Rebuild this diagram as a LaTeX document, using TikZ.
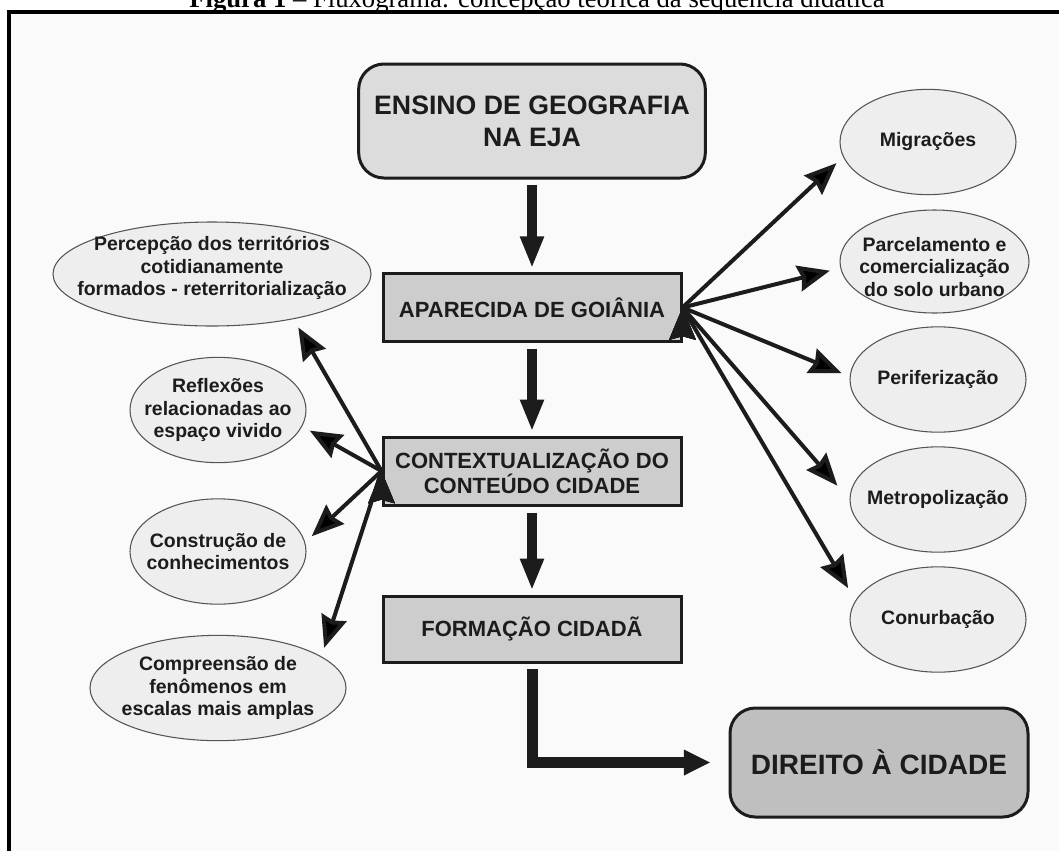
\documentclass[tikz,border=0pt]{standalone}
\usepackage{fontspec}
\setmainfont{Liberation Sans}
\newfontfamily\captionfont{Liberation Serif}
\usepackage{tikz}
\usetikzlibrary{shapes,arrows.meta,calc,positioning}
\definecolor{ink}{HTML}{1C1C1C}
\definecolor{paper}{HTML}{FAFAFA}
\definecolor{headgray}{HTML}{DCDCDC}
\definecolor{boxgray}{HTML}{CDCDCD}
\definecolor{endgray}{HTML}{BFBFBF}
\definecolor{topicgray}{HTML}{EEEEEE}
\tikzset{
    auto, semithick,
    mainbox/.style = {rectangle, draw=ink, line width=2.25pt, fill=boxgray, text=ink,
        minimum width=223.5pt, minimum height=50.5pt, align=center,
        font=\fontsize{16.5}{18.75}\selectfont\bfseries},
    capbox/.style = {mainbox, rounded corners=19pt},
    topic/.style = {ellipse, draw=ink!75, line width=0.8pt, fill=topicgray,
        minimum width=132pt, minimum height=79pt, inner sep=0pt},
    topictext/.style = {align=center, text=ink, font=\fontsize{14.6}{16.9}\selectfont\bfseries},
    flow/.style = {-{Triangle[length=24pt,width=16.5pt]}, line width=7.5pt, draw=ink},
    link/.style = {-{Stealth[length=24pt,width=19.5pt,inset=2.5pt]}, line width=3pt, draw=ink}
}

\begin{document}
\begin{tikzpicture}[x=0.75pt, y=-0.75pt]
    \useasboundingbox (0,0) rectangle (1059,850);
    \fill[white] (0,0) rectangle (1059,850);

    % Frame and caption
    \draw[line width=3pt, fill=paper] (9,12) rectangle (1090,880);
    \node[anchor=base, inner sep=0pt, font=\captionfont\fontsize{20}{24}\selectfont] (caption) at (537,7)
        {\textbf{Figura 1} – Fluxograma: concepção teórica da sequência didática};

    % Main column
    \node[capbox, fill=headgray, minimum width=260pt, minimum height=85.5pt,
        font=\fontsize{20}{24}\selectfont\bfseries] (ensino) at (532,121) {ENSINO DE GEOGRAFIA\\NA EJA};
    \node[mainbox] (apar) at (532,307.5) {APARECIDA DE GOIÂNIA};
    \node[mainbox, minimum height=51pt] (ctx) at (532,471) {CONTEXTUALIZAÇÃO DO\\CONTEÚDO CIDADE};
    \node[mainbox, minimum height=49.5pt] (form) at (532,629) {FORMAÇÃO CIDADÃ};
    \node[capbox, fill=endgray, minimum height=81.75pt,
        font=\fontsize{21}{25}\selectfont\bfseries] (direito) at (879,762.5) {DIREITO À CIDADE};

    % Left topics
    \node[topic, minimum width=238.5pt, minimum height=78pt,
        label={[topictext, yshift=4.5pt]center:Percepção dos territórios\\cotidianamente\\formados - reterritorialização}] (perc) at (212,274) {};
    \node[topic, label={[topictext]center:Reflexões\\relacionadas ao\\espaço vivido}] (refl) at (218,410) {};
    \node[topic, label={[topictext]center:Construção de\\conhecimentos}] (cons) at (218,551.5) {};
    \node[topic, minimum width=192pt,
        label={[topictext]center:Compreensão de\\fenômenos em\\escalas mais amplas}] (comp) at (218,688) {};

    % Right topics
    \node[topic, label={[topictext]center:Migrações}] (migr) at (928,142) {};
    \node[topic, minimum width=141.75pt, minimum height=77.25pt,
        label={[topictext, yshift=-4pt]center:Parcelamento e\\comercialização\\do solo urbano}] (parc) at (934.5,261.5) {};
    \node[topic, label={[topictext]center:Periferização}] (peri) at (938,379.5) {};
    \node[topic, label={[topictext]center:Metropolização}] (metr) at (938,499.5) {};
    \node[topic, label={[topictext]center:Conurbação}] (conu) at (938,619.5) {};

    % Main flow
    \draw[flow, shorten <=3.75pt, shorten >=3pt] (ensino) -- (apar);
    \draw[flow, shorten <=4.5pt, shorten >=3pt] (apar) -- (ctx);
    \draw[flow, shorten <=4.5pt, shorten >=3pt] (ctx) -- (form);
    \draw[flow, -{Triangle[length=20pt,width=18pt]}, line width=8.25pt,
        shorten <=3.75pt, shorten >=13.5pt] (form.south) |- (direito.west);

    % Left links
    \path[link] (ctx.west) edge[shorten >=7.2pt] (perc.-29);
    \path[link] (ctx.west) edge[shorten >=6.5pt] (refl.-11.5);
    \path[link] (ctx.west) edge[shorten >=6.7pt] (cons.6.7);
    \path[link] (ctx.west) edge[shorten >=6.75pt] (comp.17.8);

    % Right links
    \path[link] (apar.east) edge[shorten >=6.75pt] (migr.190);
    \path[link] (apar.east) edge[shorten >=8pt] (parc.184);
    \path[link] (apar.east) edge[shorten >=6.6pt] (peri.178.3);
    \path[link] (apar.east) edge[shorten >=13.8pt] (metr.180.6);
    \path[link] (apar.east) edge[shorten >=10.7pt] (conu.167.9);
\end{tikzpicture}
\end{document}
